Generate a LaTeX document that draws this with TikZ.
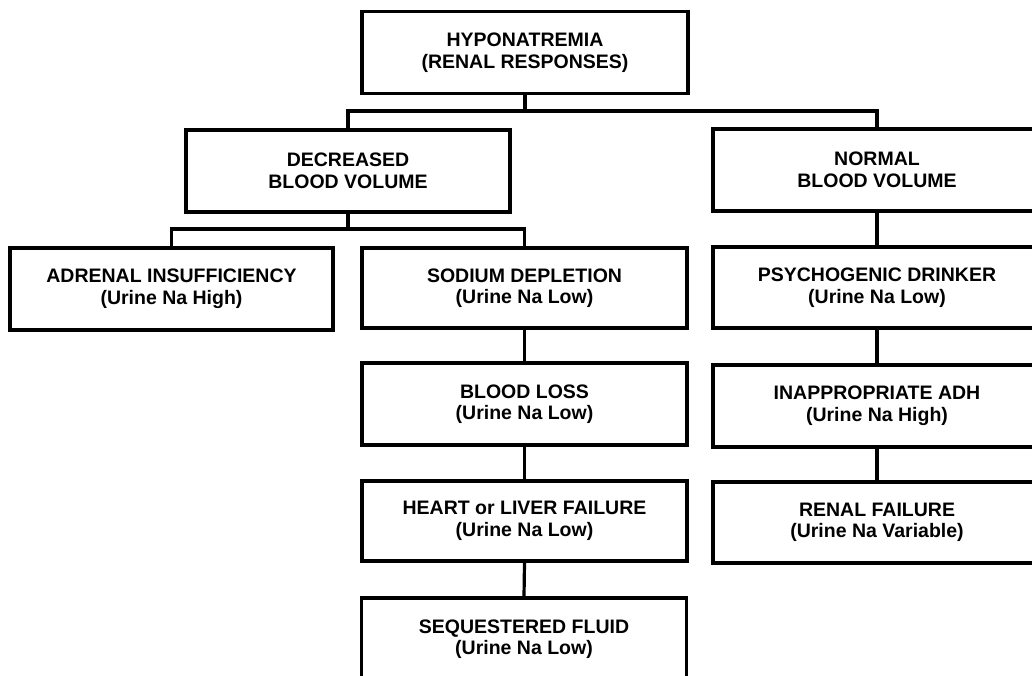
\documentclass[tikz,border=0pt]{standalone}
\usepackage{fontspec}
\setmainfont{Liberation Sans}
\begin{document}
\begin{tikzpicture}[x=1pt,y=-1pt,
  box/.style={draw=black, line width=3.2pt, fill=white, minimum height=82pt, inner sep=0pt,
    align=center, font=\bfseries\fontsize{19.5}{21.5}\selectfont, text=black},
  wbox/.style={box, minimum width=325pt},
  conn/.style={draw=black, line width=3.2pt}]
\useasboundingbox (0,0) rectangle (1032,676);
\clip (0,0) rectangle (1032,676);
\fill[white] (0,0) rectangle (1032,676);
\node[box, minimum width=326pt] (top) at (525,52.5) {HYPONATREMIA\\(RENAL RESPONSES)};
\node[box, minimum width=324pt] (dec) at (348,171) {DECREASED\\BLOOD VOLUME};
\node[box, minimum width=328pt] (norm) at (877,170) {NORMAL\\BLOOD VOLUME};
\node[box, minimum width=323pt] (adr) at (171.5,289) {ADRENAL INSUFFICIENCY\\(Urine Na High)};
\node[wbox, minimum height=80pt] (sod) at (524.5,288) {SODIUM DEPLETION\\(Urine Na Low)};
\node[box, minimum width=328pt, minimum height=81pt] (psy) at (877,287.5) {PSYCHOGENIC DRINKER\\(Urine Na Low)};
\node[wbox] (blood) at (524.5,404) {BLOOD LOSS\\(Urine Na Low)};
\node[box, minimum width=328pt] (inapp) at (877,406) {INAPPROPRIATE ADH\\(Urine Na High)};
\node[wbox, minimum height=80pt] (heart) at (524.5,521) {HEART or LIVER FAILURE\\(Urine Na Low)};
\node[box, minimum width=328pt, minimum height=81pt] (renal) at (877,522.5) {RENAL FAILURE\\(Urine Na Variable)};
\node[wbox] (seq) at (524,639) {SEQUESTERED FLUID\\(Urine Na Low)};
\coordinate (j1) at (525,111);
\coordinate (j2) at (348,229);
\draw[conn] (top.south) -- (j1);
\draw[conn] (dec.north) |- (j1) -| (norm.north);
\draw[conn] (dec.south) -- (j2);
\draw[conn] (adr.north) |- (j2) -| (sod.north);
\draw[conn] (sod.south) -- (blood.north);
\draw[conn] (blood.south) -- (heart.north);
\draw[conn] (heart.south) -- (seq.north);
\draw[conn] (norm.south) -- (psy.north);
\draw[conn] (psy.south) -- (inapp.north);
\draw[conn] (inapp.south) -- (renal.north);
\end{tikzpicture}
\end{document}
